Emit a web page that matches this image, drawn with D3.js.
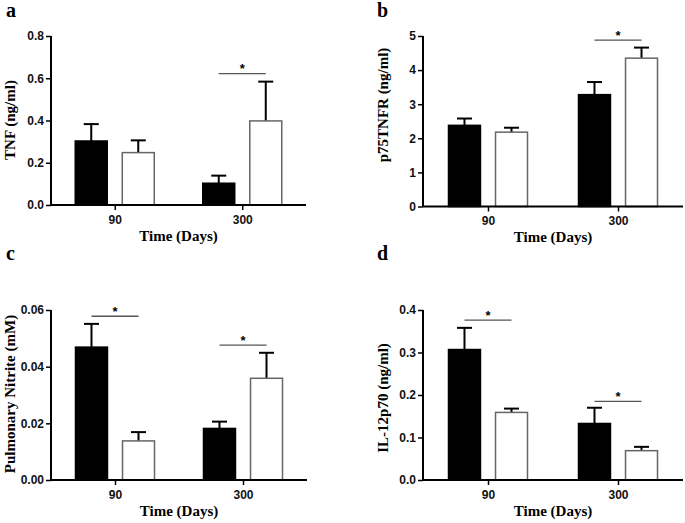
<!DOCTYPE html>
<html><head><meta charset="utf-8">
<script src="https://cdn.jsdelivr.net/npm/d3@7"></script>
<style>body{margin:0;background:#fff}svg{display:block}</style>
</head><body><div id="chart"></div>
<script>
// ---- data ----
const days = ["90", "300"];
const seriesNames = ["filled", "open"];

const tnfFilled = [0.303, 0.103];
const tnfFilledSem = [0.080, 0.036];
const tnfOpen = [0.248, 0.398];
const tnfOpenSem = [0.058, 0.186];
const tnfTicks = [0, 0.2, 0.4, 0.6, 0.8];
const tnfSig = [{ day: "300", y: 0.622 }];

const p75Filled = [2.38, 3.28];
const p75FilledSem = [0.20, 0.37];
const p75Open = [2.18, 4.35];
const p75OpenSem = [0.13, 0.31];
const p75Ticks = [0, 1, 2, 3, 4, 5];
const p75Sig = [{ day: "300", y: 4.88 }];

const nitFilled = [0.0469, 0.0182];
const nitFilledSem = [0.0082, 0.0024];
const nitOpen = [0.0138, 0.0359];
const nitOpenSem = [0.0031, 0.0090];
const nitTicks = [0, 0.02, 0.04, 0.06];
const nitSig = [{ day: "90", y: 0.0578 }, { day: "300", y: 0.0476 }];

const ilFilled = [0.307, 0.133];
const ilFilledSem = [0.051, 0.037];
const ilOpen = [0.159, 0.069];
const ilOpenSem = [0.009, 0.009];
const ilTicks = [0, 0.1, 0.2, 0.3, 0.4];
const ilSig = [{ day: "90", y: 0.376 }, { day: "300", y: 0.185 }];

const panels = [
  { letter: "a", ylabel: "TNF (ng/ml)", filled: tnfFilled, filledSem: tnfFilledSem, open: tnfOpen, openSem: tnfOpenSem, ticks: tnfTicks, fmt: ".1f", sig: tnfSig,
    x0: 51, x1: 306, yb: 205, yt: 36, lx: 6, ly: 17, labX: 10, labY: 120, titleY: 241 },
  { letter: "b", ylabel: "p75TNFR (ng/ml)", filled: p75Filled, filledSem: p75FilledSem, open: p75Open, openSem: p75OpenSem, ticks: p75Ticks, fmt: "d", sig: p75Sig,
    x0: 423, x1: 683, yb: 206.5, yt: 36, lx: 377, ly: 17, labX: 383, labY: 105, titleY: 242 },
  { letter: "c", ylabel: "Pulmonary Nitrite (mM)", filled: nitFilled, filledSem: nitFilledSem, open: nitOpen, openSem: nitOpenSem, ticks: nitTicks, fmt: ".2f", sig: nitSig,
    x0: 51, x1: 307, yb: 480, yt: 310, lx: 6, ly: 260, labX: 10, labY: 394, titleY: 516 },
  { letter: "d", ylabel: "IL-12p70 (ng/ml)", filled: ilFilled, filledSem: ilFilledSem, open: ilOpen, openSem: ilOpenSem, ticks: ilTicks, fmt: ".1f", sig: ilSig,
    x0: 423, x1: 683, yb: 480, yt: 310, lx: 377, ly: 260, labX: 383, labY: 398, titleY: 516 }
];

const W = 685, H = 523;
const svg = d3.select("#chart").append("svg").attr("width", W).attr("height", H);
const serif = "'Liberation Serif','Times New Roman',serif";
const sans = "'Liberation Sans',Arial,sans-serif";

panels.forEach(p => {
  const g = svg.append("g");
  const width = p.x1 - p.x0;
  const x = d3.scalePoint().domain(days).range([p.x0, p.x1]).padding(0.5);
  const inner = d3.scaleBand().domain(seriesNames).range([-39.5, 39.5]).paddingInner(0.32).paddingOuter(0);
  const y = d3.scaleLinear().domain([p.ticks[0], p.ticks[p.ticks.length - 1]]).range([p.yb, p.yt]);
  const bw = inner.bandwidth();

  const rows = [];
  days.forEach((d, i) => {
    rows.push({ day: d, s: "filled", v: p.filled[i], e: p.filledSem[i] });
    rows.push({ day: d, s: "open", v: p.open[i], e: p.openSem[i] });
  });

  // error bars (upper only)
  rows.forEach(r => {
    const cx = x(r.day) + inner(r.s) + bw / 2;
    g.append("line").attr("x1", cx).attr("x2", cx).attr("y1", y(r.v)).attr("y2", y(r.v + r.e))
      .attr("stroke", "#000").attr("stroke-width", 2);
    g.append("line").attr("x1", cx - 7.5).attr("x2", cx + 7.5).attr("y1", y(r.v + r.e)).attr("y2", y(r.v + r.e))
      .attr("stroke", "#000").attr("stroke-width", 2);
  });

  // bars
  g.selectAll("rect.bar").data(rows).join("rect")
    .attr("x", r => x(r.day) + inner(r.s))
    .attr("width", bw)
    .attr("y", r => y(r.v))
    .attr("height", r => y(0) - y(r.v))
    .attr("fill", r => r.s === "filled" ? "#000" : "#fff")
    .attr("stroke", r => r.s === "filled" ? "#000" : "#666")
    .attr("stroke-width", 1.5);

  // y axis
  const ya = g.append("g").attr("transform", `translate(${p.x0},0)`)
    .call(d3.axisLeft(y).tickValues(p.ticks).tickFormat(d3.format(p.fmt)).tickSize(5).tickPadding(2));
  ya.select(".domain").attr("stroke-width", 2).attr("d", `M0,${p.yt}V${p.yb}`);
  ya.selectAll(".tick line").attr("stroke-width", 1.5);
  ya.selectAll("text").attr("font-family", sans).attr("font-weight", "bold").attr("font-size", 12).attr("fill", "#111");

  // x axis
  const xa = g.append("g").attr("transform", `translate(0,${p.yb})`)
    .call(d3.axisBottom(x).tickSize(5).tickPadding(5));
  xa.select(".domain").attr("stroke-width", 2).attr("d", `M${p.x0},0H${p.x1}`);
  xa.selectAll(".tick line").attr("stroke-width", 1.5);
  xa.selectAll("text").attr("font-family", sans).attr("font-weight", "bold").attr("font-size", 12).attr("fill", "#111");

  // significance lines
  p.sig.forEach(s => {
    const xa1 = x(s.day) + inner("filled") + bw / 2;
    const xa2 = x(s.day) + inner("open") + bw / 2;
    g.append("line").attr("x1", xa1).attr("x2", xa2).attr("y1", y(s.y)).attr("y2", y(s.y))
      .attr("stroke", "#555").attr("stroke-width", 1.3);
    g.append("text").attr("x", (xa1 + xa2) / 2).attr("y", y(s.y) - 0.5)
      .attr("text-anchor", "middle").attr("font-family", sans).attr("font-weight", "bold").attr("font-size", 13)
      .text("*");
  });

  // titles
  g.append("text").attr("x", (p.x0 + p.x1) / 2).attr("y", p.titleY).attr("text-anchor", "middle")
    .attr("font-family", serif).attr("font-weight", "bold").attr("font-size", 15).text("Time (Days)");
  g.append("text").attr("transform", `translate(${p.labX + 5},${p.labY}) rotate(-90)`).attr("text-anchor", "middle")
    .attr("font-family", serif).attr("font-weight", "bold").attr("font-size", 15).text(p.ylabel);
  g.append("text").attr("x", p.lx).attr("y", p.ly)
    .attr("font-family", serif).attr("font-weight", "bold").attr("font-size", 20).text(p.letter);
});
</script></body></html>
